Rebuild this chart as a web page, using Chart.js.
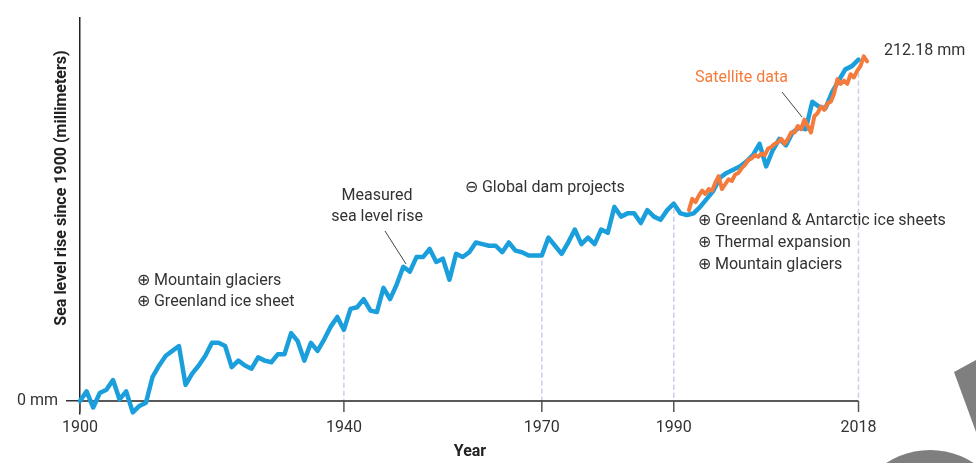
<!DOCTYPE html>
<html>
<head>
<meta charset="utf-8">
<script src="https://cdn.jsdelivr.net/npm/chart.js@4.4.0/dist/chart.umd.min.js"></script>
<style>
  body { margin: 0; background: #fff; }
  canvas { display: block; }
</style>
</head>
<body>
<canvas id="seaLevelChart" width="976" height="463"></canvas>
<script>
// measured (tide gauge) series, one value per year from 1900
const startYear = 1900;
const measuredMM = [
  0, 6, -4, 5, 7, 13, 1, 6, -7, -3,
  -1, 15, 22, 28, 31, 34, 10, 17, 22, 28,
  36, 36, 34, 21, 25, 22, 20, 27, 25, 24,
  29, 29, 42, 37, 25, 36, 31, 38, 46, 52,
  44, 57, 58, 63, 56, 55, 70, 63, 72, 83,
  80, 89, 89, 94, 86, 88, 75, 91, 89, 92,
  98, 97, 96, 96, 92, 98, 93, 92, 90, 90,
  90, 101, 96, 91, 98, 106, 97, 101, 97, 106,
  104, 120, 114, 116, 116, 110, 118, 114, 112, 118,
  122, 116, 115, 116, 120, 125, 130, 138, 141, 143,
  145, 148, 152, 159, 145, 155, 162, 158, 166, 169,
  168, 185, 182, 181, 191, 198, 205, 207, 211
];
const measuredYears = measuredMM.map((_, i) => startYear + i);

// satellite altimetry
const satYears = [
  1992.3, 1992.8, 1993.3, 1993.8, 1994.3, 1994.8, 1995.3, 1995.8, 1996.3, 1996.8,
  1997.3, 1997.8, 1998.3, 1998.8, 1999.3, 1999.8, 2000.3, 2000.8, 2001.3, 2001.8,
  2002.3, 2002.8, 2003.3, 2003.8, 2004.3, 2004.8, 2005.3, 2005.8, 2006.3, 2006.8,
  2007.3, 2007.8, 2008.3, 2008.8, 2009.3, 2009.8, 2010.3, 2010.8, 2011.3, 2011.8,
  2012.3, 2012.8, 2013.3, 2013.8, 2014.3, 2014.8, 2015.3, 2015.8, 2016.3, 2016.8,
  2017.3, 2017.8, 2018.3, 2018.8, 2019.3
];
const satMM = [
  118, 125, 123, 127, 130, 128, 131, 130, 135, 139,
  131, 134, 137, 136, 140, 141, 144, 146, 149, 150,
  152, 151, 153, 152, 156, 157, 159, 160, 162, 159,
  162, 166, 166, 170, 168, 174, 170, 166, 176, 178,
  182, 180, 184, 185, 190, 199, 196, 198, 196, 202,
  200, 204, 207, 213, 210
];

const xTicks = [1900, 1940, 1970, 1990, 2018];
const yTicks = [0];
const guideYears = [1940, 1970, 1990, 2018];
const endLabel = '212.18 mm';

const blue = '#1a9fdc';
const orange = '#f47b3c';
const ink = '#333';
const font = 'Roboto';

const overlay = {
  id: 'overlay',
  beforeDatasetsDraw(chart) {
    const { ctx, scales: { x, y } } = chart;
    const y0 = y.getPixelForValue(0);
    ctx.save();
    ctx.strokeStyle = '#c9cfea';
    ctx.lineWidth = 1.5;
    ctx.setLineDash([5, 3]);
    guideYears.forEach(yr => {
      const px = x.getPixelForValue(yr);
      const top = y.getPixelForValue(measuredMM[yr - startYear]) + 5;
      ctx.beginPath();
      ctx.moveTo(px, top);
      ctx.lineTo(px, y0);
      ctx.stroke();
    });
    ctx.setLineDash([]);
    ctx.strokeStyle = '#222';
    ctx.lineWidth = 1.5;
    ctx.beginPath();
    ctx.moveTo(x.left, y0);
    ctx.lineTo(x.getPixelForValue(2018), y0);
    ctx.stroke();
    ctx.strokeStyle = '#555';
    xTicks.forEach(v => {
      const px = x.getPixelForValue(v);
      ctx.beginPath();
      ctx.moveTo(px, y0);
      ctx.lineTo(px, y0 + 11);
      ctx.stroke();
    });
    ctx.restore();
  },
  afterDraw(chart) {
    const { ctx } = chart;
    ctx.save();
    ctx.textBaseline = 'middle';

    // axis titles
    ctx.fillStyle = '#222';
    ctx.font = 'bold 16px ' + font;
    ctx.textAlign = 'center';
    ctx.fillText('Year', 470, 452);
    ctx.save();
    ctx.translate(62, 188);
    ctx.rotate(-Math.PI / 2);
    ctx.fillText('Sea level rise since 1900 (millimeters)', 0, 0);
    ctx.restore();

    ctx.fillStyle = ink;
    ctx.font = '16px ' + font;
    ctx.textAlign = 'left';
    ctx.fillText('\u2295 Mountain glaciers', 137, 281);
    ctx.fillText('\u2295 Greenland ice sheet', 137, 302);
    ctx.fillText('\u2296 Global dam projects', 465, 188);
    ctx.fillText('\u2295 Greenland & Antarctic ice sheets', 698, 221);
    ctx.fillText('\u2295 Thermal expansion', 698, 243);
    ctx.fillText('\u2295 Mountain glaciers', 698, 265);
    ctx.fillText(endLabel, 884, 51);

    ctx.textAlign = 'center';
    ctx.fillText('Measured', 377, 196);
    ctx.fillText('sea level rise', 377, 217);

    ctx.fillStyle = orange;
    ctx.textAlign = 'left';
    ctx.fillText('Satellite data', 695, 78);

    // leader lines
    ctx.strokeStyle = '#444';
    ctx.lineWidth = 1;
    ctx.beginPath();
    ctx.moveTo(385, 231);
    ctx.lineTo(406, 264);
    ctx.moveTo(782, 92);
    ctx.lineTo(802, 117);
    ctx.stroke();

    // grey corner marks
    ctx.fillStyle = '#7f7f7f';
    ctx.beginPath();
    ctx.moveTo(954, 372);
    ctx.lineTo(976, 360);
    ctx.lineTo(976, 432);
    ctx.closePath();
    ctx.fill();
    ctx.beginPath();
    ctx.arc(930, 530, 80, 0, Math.PI * 2);
    ctx.fill();
    ctx.restore();
  }
};

Chart.defaults.font.family = font;

new Chart(document.getElementById('seaLevelChart'), {
  type: 'line',
  data: {
    datasets: [
      {
        label: 'Satellite data',
        data: satYears.map((yr, i) => ({ x: yr, y: satMM[i] })),
        borderColor: orange,
        borderWidth: 4,
        pointRadius: 0,
        tension: 0,
        borderJoinStyle: 'round',
        borderCapStyle: 'round',
        clip: false
      },
      {
        label: 'Measured sea level rise',
        data: measuredYears.map((yr, i) => ({ x: yr, y: measuredMM[i] })),
        borderColor: blue,
        borderWidth: 4.5,
        pointRadius: 0,
        tension: 0,
        borderJoinStyle: 'round',
        borderCapStyle: 'round',
        clip: false
      }
    ]
  },
  options: {
    responsive: false,
    animation: false,
    layout: { padding: { left: 0, right: 101, top: 11, bottom: 0 } },
    plugins: {
      legend: { display: false },
      tooltip: { enabled: false }
    },
    scales: {
      x: {
        type: 'linear',
        min: 1900,
        max: 2020.5,
        afterBuildTicks: scale => { scale.ticks = xTicks.map(v => ({ value: v })); },
        afterFit: scale => { scale.height = 49; },
        grid: { display: false, drawTicks: false },
        border: { display: false },
        ticks: {
          padding: 4,
          color: ink,
          font: { size: 16 },
          maxRotation: 0,
          autoSkip: false,
          callback: v => String(v)
        }
      },
      y: {
        min: -8,
        max: 237,
        afterBuildTicks: scale => { scale.ticks = yTicks.map(v => ({ value: v })); },
        afterFit: scale => { scale.width = 80; },
        grid: { drawOnChartArea: false, tickLength: 14, tickColor: '#333', lineWidth: 1.5 },
        border: { display: true, color: '#222', width: 1.5 },
        ticks: {
          padding: 8,
          color: ink,
          font: { size: 16 },
          callback: v => v + ' mm'
        }
      }
    }
  },
  plugins: [overlay]
});
</script>
</body>
</html>
